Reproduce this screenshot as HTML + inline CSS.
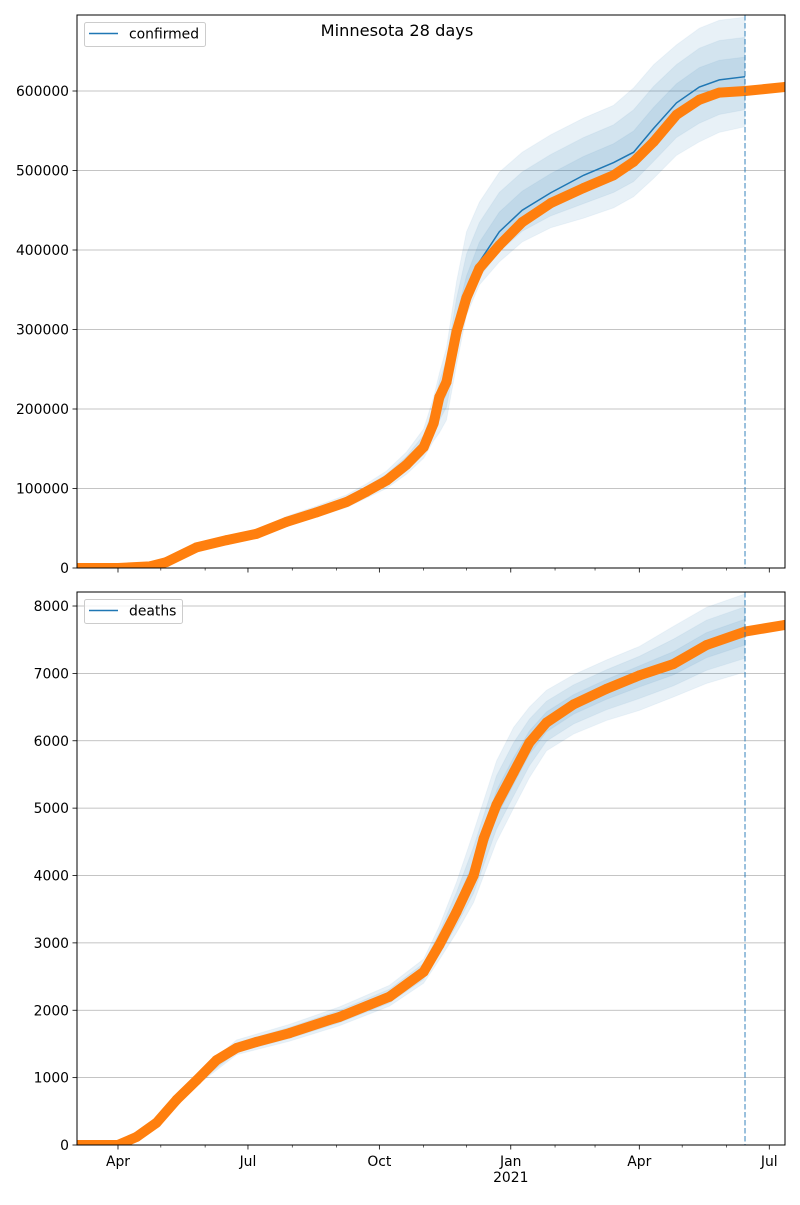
<!DOCTYPE html>
<html><head><meta charset="utf-8">
<style>
html,body{margin:0;padding:0;background:#fff;}
svg text{font-family:"DejaVu Sans","Liberation Sans",sans-serif;}
</style></head>
<body>
<svg id="chart" width="800" height="1200" viewBox="0 0 800 1200" xmlns="http://www.w3.org/2000/svg">
<rect width="800" height="1200" fill="#fff"/>
<text x="397" y="36" font-size="16.2" text-anchor="middle" fill="#000">Minnesota 28 days</text>
</svg>
<script>
// days since 2020-03-01
const monthDays = [0,31,61,92,122,153,184,214,245,275,306,337,365,396,426,457,487];
const majorTickDays = [31,122,214,306,396,487];
const majorTickLabels = ["Apr","Jul","Oct","Jan","Apr","Jul"];
const forecastDay = 470;

const confTicks = [0,100000,200000,300000,400000,500000,600000];
const deathTicks = [0,1000,2000,3000,4000,5000,6000,7000,8000];

const confObsDays = [2,31,53,65,86,107,128,149,170,191,205,219,233,245,252,256,261,268,275,284,298,314,334,357,378,392,406,422,438,452,470,498];
const confObsVals = [0,0,2000,7500,26000,35000,43000,58000,70000,83000,96000,110000,130000,152000,182000,215000,234000,297000,340000,377000,406000,435000,459000,478000,494000,511000,536000,570000,589000,598000,600000,605000];

const confModelDays = [31,65,86,107,128,149,170,191,205,219,233,245,252,256,261,268,275,284,298,314,334,357,378,392,406,422,438,452,470];
const confModelMed = [0,7500,26000,35000,43000,58000,70000,83000,96000,110000,130000,152000,182000,215000,234000,297000,340000,385000,423000,450000,472000,494000,510000,523000,553000,585000,605000,614000,618000];
const confModelHi = [500,9000,29000,39000,48000,65000,78000,92000,106000,122000,146000,175000,215000,245000,277000,360000,423000,460000,498000,523000,545000,566000,582000,604000,633000,658000,679000,689000,693000];
const confModelLo = [0,6000,23000,32000,39000,53000,64000,76000,88000,100000,118000,138000,160000,170000,186000,255000,318000,356000,385000,410000,428000,440000,453000,467000,490000,519000,536000,548000,555000];

const deathObsDays = [2,31,44,58,72,86,100,114,128,151,179,186,221,245,256,268,280,287,296,308,319,331,350,373,396,420,443,470,498];
const deathObsVals = [0,0,120,330,670,960,1260,1440,1530,1660,1855,1900,2200,2570,2970,3460,4000,4550,5050,5530,5970,6270,6540,6770,6970,7140,7420,7620,7720];

const deathModelDays = [31,58,86,114,151,186,221,245,256,268,280,296,308,319,331,350,373,396,420,443,470];
const deathModelMed = [0,330,960,1440,1660,1900,2200,2570,2970,3460,4000,5050,5530,5970,6270,6540,6770,6970,7140,7420,7620];
const deathModelHi = [0,380,1050,1560,1790,2050,2370,2760,3250,3900,4650,5700,6200,6500,6750,6980,7200,7400,7700,7980,8180];
const deathModelLo = [0,290,880,1340,1540,1770,2060,2400,2750,3150,3600,4500,5000,5450,5850,6100,6300,6450,6650,6850,7020];

const NS = "http://www.w3.org/2000/svg";
const svg = document.getElementById("chart");
const X0 = 77, X1 = 785, D0 = 2.3, D1 = 498;
function xs(d){ return X0 + (d - D0) * (X1 - X0) / (D1 - D0); }
function mk(tag, attrs, parent){
  const e = document.createElementNS(NS, tag);
  for (const k in attrs) e.setAttribute(k, attrs[k]);
  (parent || svg).appendChild(e);
  return e;
}

function panel(cfg){
  const {top, bottom, ymax, ticks, obsDays, obsVals, mDays, mMed, mHi, mLo, label, name, showXLabels} = cfg;
  const ys = v => bottom - v * (bottom - top) / ymax;
  const g = mk("g", {});
  
  
  const clipId = "clip-" + name;
  const cp = mk("clipPath", {id: clipId}, g);
  mk("rect", {x: X0, y: top, width: X1 - X0, height: bottom - top}, cp);
  // grid
  ticks.forEach(t => {
    const l = mk("line", {x1: X0, x2: X1, y1: ys(t), y2: ys(t), stroke: "#b0b0b0", "stroke-width": 0.8}, g);
    
    
  });
  const inner = mk("g", {"clip-path": "url(#" + clipId + ")"}, g);
  // bands
  [1, 0.66, 0.33].forEach((f, bi) => {
    let pts = [];
    mDays.forEach((d, i) => pts.push(xs(d) + "," + ys(mMed[i] + f * (mHi[i] - mMed[i]))));
    for (let i = mDays.length - 1; i >= 0; i--) pts.push(xs(mDays[i]) + "," + ys(mMed[i] - f * (mMed[i] - mLo[i])));
    const p = mk("polygon", {points: pts.join(" "), fill: "#1f77b4", "fill-opacity": 0.1, stroke: "#1f77b4", "stroke-opacity": 0.05}, inner);
    
    
  });
  // median
  const med = mk("polyline", {points: mDays.map((d, i) => xs(d) + "," + ys(mMed[i])).join(" "), fill: "none", stroke: "#1f77b4", "stroke-width": 1.5}, inner);
  
  
  // observed
  const obs = mk("polyline", {points: obsDays.map((d, i) => xs(d) + "," + ys(obsVals[i])).join(" "), fill: "none", stroke: "#ff7f0e", "stroke-width": 10, "stroke-linejoin": "round", "stroke-linecap": "round"}, inner);
  
  
  obsDays.forEach((d, i) => {
    const c = mk("circle", {cx: xs(d), cy: ys(obsVals[i]), r: 5, fill: "#ff7f0e"}, inner);
    
    
  });
  // forecast line
  const vl = mk("line", {x1: xs(forecastDay), x2: xs(forecastDay), y1: top, y2: bottom, stroke: "#1f77b4", "stroke-opacity": 0.6, "stroke-width": 1.5, "stroke-dasharray": "5.5,2.5"}, g);
  
  
  // frame
  const fr = mk("rect", {x: X0, y: top, width: X1 - X0, height: bottom - top, fill: "none", stroke: "#000", "stroke-width": 1}, g);
  
  
  // y ticks
  ticks.forEach(t => {
    mk("line", {x1: X0 - 4.5, x2: X0, y1: ys(t), y2: ys(t), stroke: "#000", "stroke-width": 0.8}, g);
    const tx = mk("text", {x: X0 - 8, y: ys(t) + 5, "font-size": 13.9, "text-anchor": "end", fill: "#000"}, g);
    tx.textContent = String(t);
    
    
  });
  // x ticks
  monthDays.forEach(d => {
    const x = xs(d);
    if (x < X0 - 0.5 || x > X1 + 0.5) return;
    const major = majorTickDays.includes(d);
    mk("line", {x1: x, x2: x, y1: bottom, y2: bottom + (major ? 4.5 : 2.5), stroke: "#000", "stroke-width": major ? 0.8 : 0.6}, g);
  });
  if (showXLabels) {
    majorTickDays.forEach((d, i) => {
      const tx = mk("text", {x: xs(d), y: bottom + 21, "font-size": 13.9, "text-anchor": "middle", fill: "#000"}, g);
      tx.textContent = majorTickLabels[i];
      
      
    });
    const yr = mk("text", {x: xs(306), y: bottom + 37, "font-size": 13.9, "text-anchor": "middle", fill: "#000"}, g);
    yr.textContent = "2021";
    
    
  }
  // legend
  const lg = mk("g", {}, g);
  
  
  const w = label === "confirmed" ? 121 : 98;
  mk("rect", {x: 84.5, y: top + 7.5, width: w, height: 24, rx: 2, fill: "#fff", "fill-opacity": 0.8, stroke: "#ccc", "stroke-width": 1}, lg);
  mk("line", {x1: 89, x2: 118, y1: top + 18.5, y2: top + 18.5, stroke: "#1f77b4", "stroke-width": 1.5}, lg);
  const lt = mk("text", {x: 129, y: top + 23.5, "font-size": 13.9, fill: "#000"}, lg);
  lt.textContent = label;
  
  
}

panel({top: 15, bottom: 568, ymax: 695600, ticks: confTicks, obsDays: confObsDays, obsVals: confObsVals,
  mDays: confModelDays, mMed: confModelMed, mHi: confModelHi, mLo: confModelLo, label: "confirmed", name: "confirmed", showXLabels: false});
panel({top: 592, bottom: 1145, ymax: 8208, ticks: deathTicks, obsDays: deathObsDays, obsVals: deathObsVals,
  mDays: deathModelDays, mMed: deathModelMed, mHi: deathModelHi, mLo: deathModelLo, label: "deaths", name: "deaths", showXLabels: true});
</script>
</body></html>
